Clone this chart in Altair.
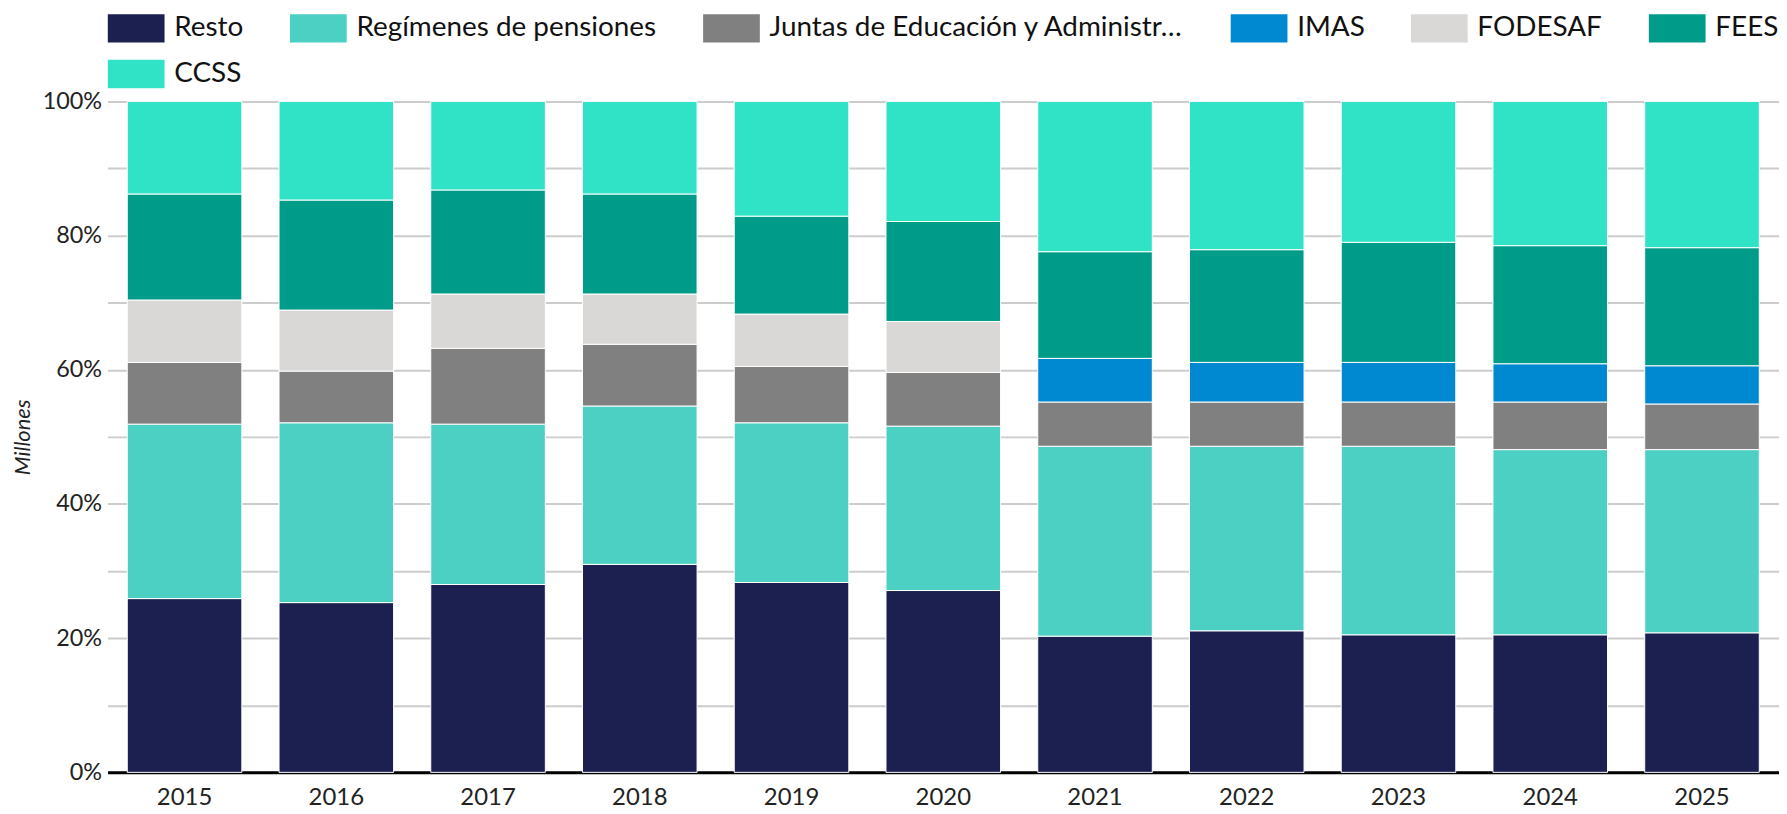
import altair as alt
import pandas as pd

years = ["2015", "2016", "2017", "2018", "2019", "2020", "2021", "2022", "2023", "2024", "2025"]
series = ["Resto", "Regímenes de pensiones", "Juntas de Educación y Administrativas",
          "IMAS", "FODESAF", "FEES", "CCSS"]
colors = ["#1b2050", "#4dd0c4", "#808080", "#0088d1", "#d9d8d6", "#009c8a", "#30e3c7"]

resto     = [25.9, 25.3, 28.0, 31.0, 28.3, 27.1, 20.3, 21.1, 20.5, 20.5, 20.8]
regimenes = [26.0, 26.8, 23.9, 23.6, 23.8, 24.5, 28.3, 27.5, 28.1, 27.6, 27.3]
juntas    = [9.2, 7.7, 11.3, 9.2, 8.4, 8.0, 6.6, 6.6, 6.6, 7.1, 6.8]
imas      = [0, 0, 0, 0, 0, 0, 6.5, 5.9, 5.9, 5.7, 5.7]
fodesaf   = [9.3, 9.1, 8.1, 7.5, 7.8, 7.6, 0, 0, 0, 0, 0]
fees      = [15.8, 16.4, 15.5, 14.9, 14.6, 14.9, 15.9, 16.8, 17.9, 17.6, 17.6]
ccss      = [13.8, 14.7, 13.2, 13.8, 17.1, 17.9, 22.4, 22.1, 21.0, 21.5, 21.8]

values = [resto, regimenes, juntas, imas, fodesaf, fees, ccss]
rows = []
for si, (name, vals) in enumerate(zip(series, values)):
    for y, v in zip(years, vals):
        if v > 0:
            rows.append({"year": y, "serie": name, "value": v, "idx": si})
df = pd.DataFrame(rows)

tick_vals = [i / 10 for i in range(11)]

chart = alt.Chart(df).mark_bar(stroke="white", strokeWidth=1).encode(
    x=alt.X("year:N", sort=years,
            scale=alt.Scale(paddingInner=0.245, paddingOuter=0.13),
            axis=alt.Axis(title=None, labelAngle=0, ticks=False, labelPadding=13,
                          domainColor="black", domainWidth=3, labelFont="Lato",
                          labelFontSize=24, labelColor="#222")),
    y=alt.Y("value:Q", stack="normalize",
            scale=alt.Scale(domain=[0, 1], nice=False),
            axis=alt.Axis(title="Millones", values=tick_vals, ticks=False, domain=False,
                          labelExpr="round(datum.value*100) % 20 == 0 ? format(datum.value, '.0%') : ''",
                          gridColor="#cccccc", gridWidth=2, labelPadding=6,
                          labelFont="Lato", labelFontSize=23.5, labelColor="#222",
                          titleFont="Lato", titleFontSize=22, titleFontStyle="italic",
                          titleFontWeight="normal", titleColor="#222", titlePadding=8)),
    color=alt.Color("serie:N", sort=series,
                    scale=alt.Scale(domain=series, range=colors),
                    legend=alt.Legend(title=None, orient="top", direction="horizontal",
                                      columns=6, symbolType="M-1,-1H3V1H-1Z",
                                      symbolSize=812, symbolStrokeWidth=0,
                                      labelFont="Lato", labelFontSize=28, labelColor="#111",
                                      labelOffset=38, labelLimit=424, columnPadding=46,
                                      rowPadding=17, offset=13, padding=0)),
    order=alt.Order("idx:Q", sort="ascending"),
).properties(
    width=1679, height=674,
    padding={"left": 3, "top": 4, "right": 0, "bottom": 0},
).configure_view(stroke=None)

chart.save("out.html", embed_options={"renderer": "svg", "actions": False})
